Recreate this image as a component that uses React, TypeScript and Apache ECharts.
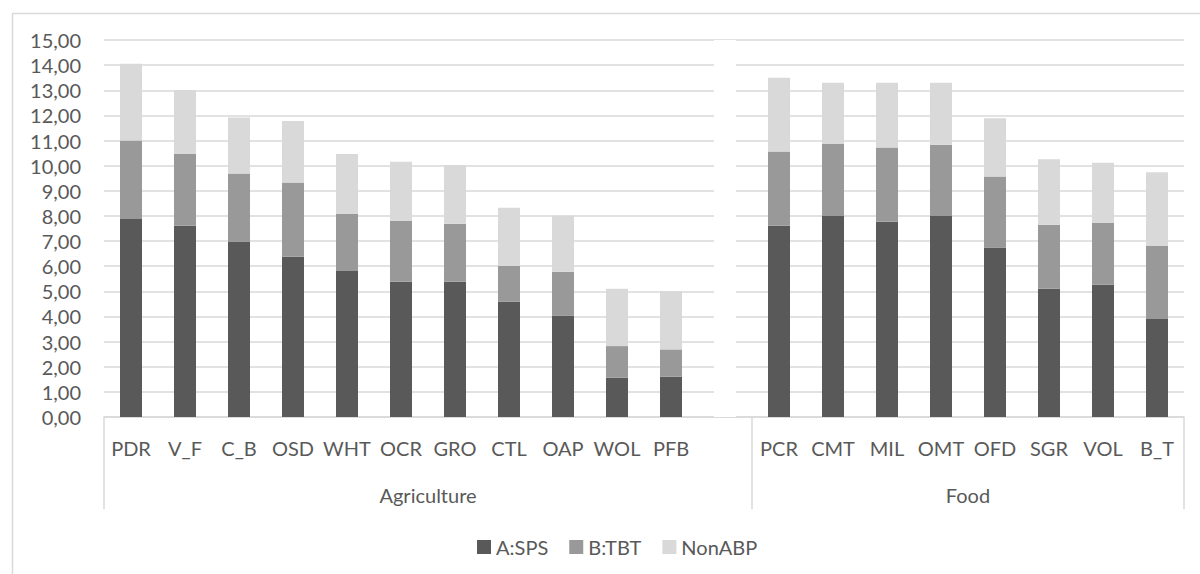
import React, { useEffect, useRef } from "react";
import * as echarts from "echarts";

// Product codes; the empty slot separates the two sectors
const categories = [
  "PDR", "V_F", "C_B", "OSD", "WHT", "OCR", "GRO", "CTL", "OAP", "WOL", "PFB",
  "",
  "PCR", "CMT", "MIL", "OMT", "OFD", "SGR", "VOL", "B_T",
];

const sectors = ["Agriculture", "Food"];
// slot index where each sector starts / ends (boundaries of the category band)
const sectorBounds = [0, 12, 20];

const seriesNames = ["A:SPS", "B:TBT", "NonABP"];

const spsValues = [
  7.88, 7.61, 6.98, 6.38, 5.81, 5.38, 5.38, 4.6, 4.04, 1.56, 1.6,
  null,
  7.61, 8.0, 7.77, 8.0, 6.74, 5.1, 5.26, 3.9,
];
const tbtValues = [
  3.12, 2.85, 2.71, 2.95, 2.27, 2.42, 2.31, 1.41, 1.74, 1.26, 1.09,
  null,
  2.95, 2.86, 2.95, 2.83, 2.83, 2.55, 2.46, 2.9,
];
const nonAbpValues = [
  3.06, 2.55, 2.23, 2.45, 2.38, 2.36, 2.34, 2.32, 2.23, 2.28, 2.32,
  null,
  2.94, 2.44, 2.58, 2.47, 2.32, 2.61, 2.4, 2.94,
];
// blank spacer column between the sectors
const spacerValues = [
  null, null, null, null, null, null, null, null, null, null, null,
  15,
  null, null, null, null, null, null, null, null,
];

const yTicks = { min: 0, max: 15, interval: 1 };

const colors = ["#595959", "#999999", "#d9d9d9"];
const textColor = "#595959";
const lineColor = "#d9d9d9";
const fontFamily = "Lato, 'Open Sans', sans-serif";

export default function App() {
  const ref = useRef<HTMLDivElement>(null);

  useEffect(() => {
    document.body.style.margin = "0";
    if (!ref.current) return;
    const chart = echarts.init(ref.current, null, { renderer: "svg" });

    const mkSeries = (name: string, data: (number | null)[], color: string) => ({
      name,
      type: "bar",
      stack: "total",
      data,
      barWidth: 22,
      itemStyle: { color },
      emphasis: { disabled: true },
    });

    const sectorCenters = sectors.map(
      (_, i) => (sectorBounds[i] + sectorBounds[i + 1]) / 2
    );

    chart.setOption({
      animation: false,
      textStyle: { fontFamily, color: textColor },
      grid: { left: 104, right: 16, top: 40, bottom: 157 },
      legend: {
        data: seriesNames,
        left: 472,
        top: 532,
        itemWidth: 14,
        itemHeight: 14,
        itemGap: 21,
        icon: "rect",
        textStyle: { fontSize: 20, color: textColor, fontFamily },
      },
      xAxis: [
        {
          type: "category",
          data: categories,
          axisLine: { lineStyle: { color: lineColor, width: 1.5 } },
          axisTick: { show: false },
          axisLabel: {
            interval: 0,
            margin: 21,
            fontSize: 20,
            color: textColor,
            fontFamily,
          },
        },
        {
          type: "value",
          min: 0,
          max: categories.length,
          position: "bottom",
          axisLine: { show: false },
          splitLine: { show: false },
          axisTick: {
            show: true,
            customValues: sectorBounds,
            length: 92,
            lineStyle: { color: lineColor, width: 1.5 },
          },
          axisLabel: {
            customValues: sectorCenters,
            margin: 68,
            fontSize: 20,
            color: textColor,
            fontFamily,
            formatter: (v: number) => {
              const i = sectorCenters.indexOf(v);
              return i >= 0 ? sectors[i] : "";
            },
          },
        },
      ],
      yAxis: {
        type: "value",
        min: yTicks.min,
        max: yTicks.max,
        interval: yTicks.interval,
        axisLine: { show: false },
        axisTick: { show: false },
        splitLine: { lineStyle: { color: lineColor, width: 1.5 } },
        axisLabel: {
          margin: 23,
          fontSize: 20,
          color: textColor,
          fontFamily,
          formatter: (v: number) => v.toFixed(2).replace(".", ","),
        },
      },
      series: [
        mkSeries(seriesNames[0], spsValues, colors[0]),
        mkSeries(seriesNames[1], tbtValues, colors[1]),
        mkSeries(seriesNames[2], nonAbpValues, colors[2]),
        {
          name: "spacer",
          type: "bar",
          stack: "total",
          data: spacerValues,
          barWidth: 22,
          itemStyle: { color: "#ffffff" },
          emphasis: { disabled: true },
          silent: true,
        },
      ],
      graphic: [
        {
          type: "rect",
          left: 10,
          top: 11,
          shape: { width: 1200, height: 600 },
          style: { fill: "none", stroke: lineColor, lineWidth: 1.5 },
          silent: true,
        },
      ],
    });

    return () => chart.dispose();
  }, []);

  return <div ref={ref} style={{ width: 1200, height: 574 }} />;
}
